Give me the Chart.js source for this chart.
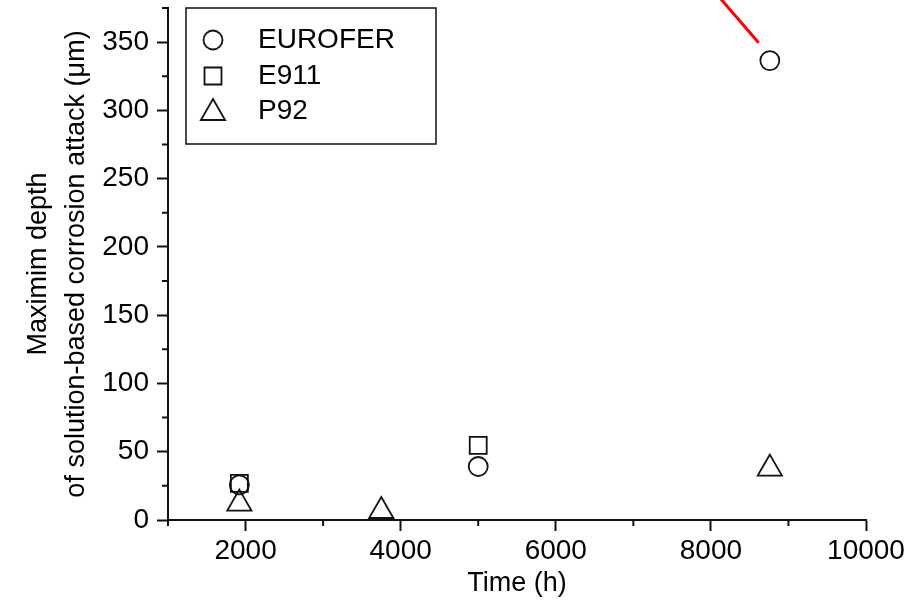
<!DOCTYPE html>
<html lang="en">
<head>
    <meta charset="UTF-8">
    <title>Maximum depth of corrosion attack</title>
    <script src="https://cdn.jsdelivr.net/npm/chart.js"></script>
    <style>
        body { margin: 0; background: white; }
        #chart-container { width: 918px; height: 601px; }
    </style>
</head>
<body>
    <div id="chart-container">
        <canvas id="depthChart" width="918" height="601"></canvas>
    </div>

    <script>
        // values
        const euroferTime = [1920, 5000, 8760];
        const euroferDepth = [25.7, 39.2, 336.5];
        const e911Time = [1920, 5000];
        const e911Depth = [26.8, 54.6];
        const p92Time = [1920, 3750, 8760];
        const p92Depth = [12, 6.6, 37.6];
        // red pointer line at the top (runs off the plot)
        const arrowTime = [8616, 8000];
        const arrowDepth = [349.5, 390];

        const seriesLabels = ['EUROFER', 'E911', 'P92'];
        const xTitle = 'Time (h)';
        const yTitle = ['Maximim depth', 'of solution-based corrosion attack (\u03bcm)'];

        const FONT = "'Liberation Sans', Arial, sans-serif";
        const INK = '#111';

        const toPoints = (xs, ys) => xs.map((x, i) => ({ x: x, y: ys[i] }));

        const markerSet = {
            backgroundColor: 'transparent',
            borderColor: INK,
            pointBorderWidth: 1.8,
            showLine: false
        };

        const data = {
            datasets: [
                Object.assign({ label: seriesLabels[0], data: toPoints(euroferTime, euroferDepth), pointStyle: 'circle', pointRadius: 9.5 }, markerSet),
                Object.assign({ label: seriesLabels[1], data: toPoints(e911Time, e911Depth), pointStyle: 'rect', pointRadius: 12 }, markerSet),
                Object.assign({ label: seriesLabels[2], data: toPoints(p92Time, p92Depth), pointStyle: 'triangle', pointRadius: 14 }, markerSet),
                {
                    label: 'arrow',
                    data: toPoints(arrowTime, arrowDepth),
                    showLine: true,
                    borderColor: '#ff0000',
                    borderWidth: 3,
                    pointRadius: 0,
                    clip: false
                }
            ]
        };

        // minor ticks drawn shorter than the major ones
        const minorTicks = {
            id: 'minorTicks',
            afterDraw(chart) {
                const { ctx, chartArea, scales } = chart;
                ctx.save();
                ctx.strokeStyle = INK;
                ctx.lineWidth = 2;
                ctx.beginPath();
                scales.x.ticks.forEach(t => {
                    if (t.value % 2000 !== 0) {
                        const px = scales.x.getPixelForValue(t.value);
                        ctx.moveTo(px, chartArea.bottom);
                        ctx.lineTo(px, chartArea.bottom + 6);
                    }
                });
                scales.y.ticks.forEach(t => {
                    if (t.value % 50 !== 0) {
                        const py = scales.y.getPixelForValue(t.value);
                        ctx.moveTo(chartArea.left, py);
                        ctx.lineTo(chartArea.left - 6, py);
                    }
                });
                ctx.stroke();
                ctx.restore();
            }
        };

        // boxed legend in the top-left corner of the plot
        const boxLegend = {
            id: 'boxLegend',
            afterDraw(chart) {
                const { ctx, chartArea } = chart;
                const left = chartArea.left + 18;
                const top = chartArea.top;
                ctx.save();
                ctx.strokeStyle = INK;
                ctx.lineWidth = 1.5;
                ctx.strokeRect(left, top, 250, 136);
                const rowY = [top + 32, top + 68, top + 103];
                ctx.font = '28px ' + FONT;
                ctx.fillStyle = '#000';
                ctx.textBaseline = 'middle';
                ctx.textAlign = 'left';
                for (let i = 0; i < 3; i++) {
                    const ds = chart.data.datasets[i];
                    ctx.lineWidth = 1.8;
                    ctx.strokeStyle = INK;
                    ctx.fillStyle = 'transparent';
                    const yOff = ds.pointStyle === 'triangle' ? 2 : 0;
                    Chart.helpers.drawPoint(ctx, {
                        pointStyle: ds.pointStyle,
                        radius: ds.pointRadius,
                        rotation: 0,
                        borderWidth: 1.8
                    }, left + 27, rowY[i] + yOff);
                    ctx.fillStyle = '#000';
                    ctx.fillText(ds.label, left + 72, rowY[i]);
                }
                ctx.restore();
            }
        };

        const config = {
            type: 'scatter',
            data: data,
            options: {
                responsive: false,
                animation: false,
                layout: { autoPadding: false, padding: { top: 8, right: 52, left: 0, bottom: 0 } },
                plugins: {
                    legend: { display: false },
                    tooltip: { enabled: false }
                },
                scales: {
                    x: {
                        type: 'linear',
                        min: 1000,
                        max: 10000,
                        afterFit(scale) {
                            scale.height = 81;
                            scale.paddingLeft = 0;
                            scale.paddingRight = 0;
                        },
                        border: { display: true, color: INK, width: 2 },
                        grid: {
                            drawOnChartArea: false,
                            tickLength: 11,
                            tickWidth: 2,
                            tickColor: c => (c.tick && c.tick.value % 2000 === 0) ? INK : 'transparent'
                        },
                        ticks: {
                            stepSize: 1000,
                            autoSkip: false,
                            maxRotation: 0,
                            padding: 3,
                            color: '#000',
                            font: { family: FONT, size: 28 },
                            callback: v => (v % 2000 === 0 ? String(v) : '')
                        },
                        title: {
                            display: true,
                            text: xTitle,
                            color: '#000',
                            font: { family: FONT, size: 27 },
                            padding: { top: 0, bottom: 1 }
                        }
                    },
                    y: {
                        min: 0,
                        max: 375,
                        afterFit(scale) {
                            scale.width = 168;
                            scale.paddingTop = 0;
                            scale.paddingBottom = 0;
                        },
                        border: { display: true, color: INK, width: 2 },
                        grid: {
                            drawOnChartArea: false,
                            tickLength: 11,
                            tickWidth: 2,
                            tickColor: c => (c.tick && c.tick.value % 50 === 0) ? INK : 'transparent'
                        },
                        ticks: {
                            stepSize: 25,
                            autoSkip: false,
                            padding: 8,
                            color: '#000',
                            font: { family: FONT, size: 28 },
                            callback: v => (v % 50 === 0 ? String(v) : '')
                        },
                        title: {
                            display: true,
                            text: yTitle,
                            color: '#000',
                            font: { family: FONT, size: 27, lineHeight: 1.4 },
                            padding: { top: 20, bottom: 0 }
                        }
                    }
                }
            },
            plugins: [minorTicks, boxLegend]
        };

        new Chart(document.getElementById('depthChart').getContext('2d'), config);
    </script>
</body>
</html>
